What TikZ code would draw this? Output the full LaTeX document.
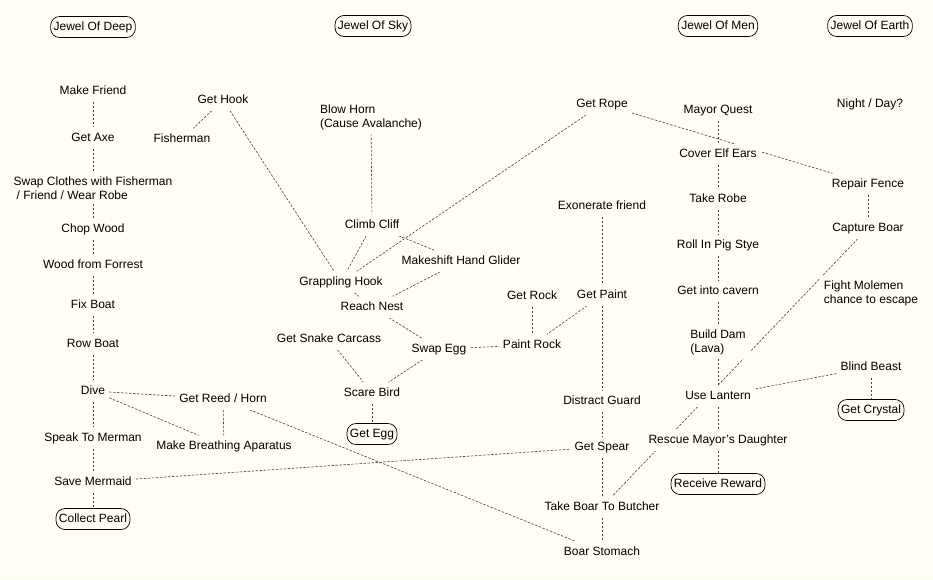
\documentclass[tikz,border=0pt]{standalone}
\usepackage{fontspec}
\setmainfont{Liberation Sans}
\definecolor{bgc}{HTML}{FFFDF4}
\definecolor{edc}{HTML}{444444}
\pgfdeclarelayer{bgl}
\pgfdeclarelayer{edgel}
\pgfsetlayers{bgl,edgel,main}
\begin{document}
\begin{tikzpicture}[x=1pt,y=-1pt,
  lbl/.style={font=\fontsize{12}{14}\selectfont, fill=bgc, inner xsep=4pt, inner ysep=4.5pt, text height=9pt, text depth=3pt},
  lbltwo/.style={font=\fontsize{12}{14}\selectfont, fill=bgc, inner xsep=4pt, inner ysep=4pt, align=left},
  goal/.style={font=\fontsize{12}{14}\selectfont, fill=bgc, draw=black, line width=0.7pt, rounded corners=9pt, inner xsep=3pt, inner ysep=4.5pt, text height=9pt, text depth=3pt},
  ed/.style={draw=edc, line width=0.6pt, dash pattern=on 2.5pt off 1.5pt}]
\begin{pgfonlayer}{bgl}
\fill[bgc] (0,0) rectangle (933,579);
\end{pgfonlayer}
\useasboundingbox (0,0) rectangle (933,579);

% column: Jewel Of Deep
\node[goal] (jd) at (93,27) {Jewel Of Deep};
\node[lbl] (mf) at (93,91) {Make Friend};
\node[lbl] (ga) at (93,138) {Get Axe};
\node[lbltwo] (sc) at (93,188) {Swap Clothes with Fisherman\\\hspace{3pt}/ Friend / Wear Robe};
\node[lbl] (cw) at (93,229) {Chop Wood};
\node[lbl] (wf) at (93,265) {Wood from Forrest};
\node[lbl] (fb) at (93,305) {Fix Boat};
\node[lbl] (rb) at (93,344) {Row Boat};
\node[lbl] (dv) at (93,391) {Dive};
\node[lbl] (sm) at (93,438) {Speak To Merman};
\node[lbl] (svm) at (93,482) {Save Mermaid};
\node[goal] (cp) at (93,519) {Collect Pearl};
\node[lbl] (gh) at (223,100) {Get Hook};
\node[lbl] (fm) at (182,139) {Fisherman};
\node[lbl] (grh) at (223,399) {Get Reed / Horn};
\node[lbl] (mba) at (224,446) {Make Breathing Aparatus};

% column: Jewel Of Sky
\node[goal] (js) at (373,26) {Jewel Of Sky};
\node[lbltwo] (bh) at (371,117) {Blow Horn\\(Cause Avalanche)};
\node[lbl] (cc) at (372,225) {Climb Cliff};
\node[lbl] (mhg) at (461,261) {Makeshift Hand Glider};
\node[lbl] (gph) at (341,282) {Grappling Hook};
\node[lbl] (rn) at (372,307) {Reach Nest};
\node[lbl] (gsc) at (329,339) {Get Snake Carcass};
\node[lbl] (se) at (439,349) {Swap Egg};
\node[lbl] (sb) at (372,393) {Scare Bird};
\node[goal] (ge) at (372,434) {Get Egg};

% middle column
\node[lbl] (gr) at (602,104) {Get Rope};
\node[lbl] (ef) at (602,206) {Exonerate friend};
\node[lbl] (grk) at (532,296) {Get Rock};
\node[lbl] (gp) at (602,295) {Get Paint};
\node[lbl] (pr) at (532,345) {Paint Rock};
\node[lbl] (dg) at (602,401) {Distract Guard};
\node[lbl] (gs) at (602,447) {Get Spear};
\node[lbl] (tb) at (602,507) {Take Boar To Butcher};
\node[lbl] (bs) at (602,552) {Boar Stomach};

% column: Jewel Of Men
\node[goal] (jm) at (718,26) {Jewel Of Men};
\node[lbl] (mq) at (718,110) {Mayor Quest};
\node[lbl] (ce) at (718,154) {Cover Elf Ears};
\node[lbl] (tr) at (718,199) {Take Robe};
\node[lbl] (rp) at (718,245) {Roll In Pig Stye};
\node[lbl] (gc) at (718,291) {Get into cavern};
\node[lbltwo] (bd) at (718,342) {Build Dam\\(Lava)};
\node[lbl] (ul) at (718,396) {Use Lantern};
\node[lbl] (rmd) at (718,440) {Rescue Mayor's Daughter};
\node[goal] (rr) at (718,484) {Receive Reward};

% column: Jewel Of Earth
\node[goal] (je) at (870,26) {Jewel Of Earth};
\node[lbl] (nd) at (870,104) {Night / Day?};
\node[lbl] (rf) at (868,184) {Repair Fence};
\node[lbl] (cb) at (868,228) {Capture Boar};
\node[lbltwo] (fmo) at (871,293) {Fight Molemen\\chance to escape};
\node[lbl] (bb) at (871,367) {Blind Beast};
\node[goal] (gcr) at (871,410) {Get Crystal};

\begin{pgfonlayer}{edgel}
\draw[ed] (mf) -- (ga);
\draw[ed] (ga) -- (sc);
\draw[ed] (sc) -- (cw);
\draw[ed] (cw) -- (wf);
\draw[ed] (wf) -- (fb);
\draw[ed] (fb) -- (rb);
\draw[ed] (rb) -- (dv);
\draw[ed] (dv) -- (sm);
\draw[ed] (sm) -- (svm);
\draw[ed] (svm) -- (cp);
\draw[ed] (dv) -- (grh);
\draw[ed] (dv) -- (mba);
\draw[ed] (grh) -- (mba);
\draw[ed] (grh) -- (bs);
\draw[ed] (svm) -- (gs);
\draw[ed] (gh) -- (fm);
\draw[ed] (gh) -- (gph);
\draw[ed] (bh) -- (cc);
\draw[ed] (cc) -- (gph);
\draw[ed] (cc) -- (mhg);
\draw[ed] (gr) -- (gph);
\draw[ed] (mhg) -- (rn);
\draw[ed] (gph) -- (rn);
\draw[ed] (rn) -- (se);
\draw[ed] (se) -- (sb);
\draw[ed] (gsc) -- (sb);
\draw[ed] (sb) -- (ge);
\draw[ed] (se) -- (pr);
\draw[ed] (grk) -- (pr);
\draw[ed] (gp) -- (pr);
\draw[ed] (ef) -- (gp);
\draw[ed] (gp) -- (dg);
\draw[ed] (dg) -- (gs);
\draw[ed] (gs) -- (tb);
\draw[ed] (tb) -- (bs);
\draw[ed] (gr) -- (rf);
\draw[ed] (mq) -- (ce);
\draw[ed] (ce) -- (tr);
\draw[ed] (tr) -- (rp);
\draw[ed] (rp) -- (gc);
\draw[ed] (gc) -- (bd);
\draw[ed] (bd) -- (ul);
\draw[ed] (ul) -- (rmd);
\draw[ed] (rmd) -- (rr);
\draw[ed] (rf) -- (cb);
\draw[ed] (cb) -- (tb);
\draw[ed] (bb) -- (ul);
\draw[ed] (bb) -- (gcr);
\end{pgfonlayer}
\end{tikzpicture}
\end{document}
